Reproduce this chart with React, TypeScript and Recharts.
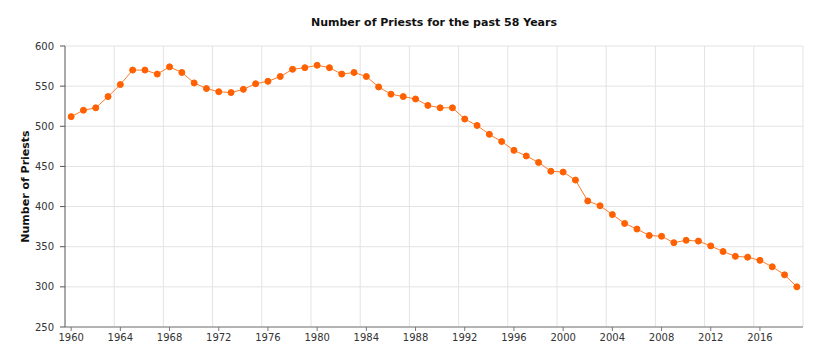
import React from 'react';
import { LineChart, Line, XAxis, YAxis, CartesianGrid, Label } from 'recharts';

const years: number[] = [
  1960, 1961, 1962, 1963, 1964, 1965, 1966, 1967, 1968, 1969,
  1970, 1971, 1972, 1973, 1974, 1975, 1976, 1977, 1978, 1979,
  1980, 1981, 1982, 1983, 1984, 1985, 1986, 1987, 1988, 1989,
  1990, 1991, 1992, 1993, 1994, 1995, 1996, 1997, 1998, 1999,
  2000, 2001, 2002, 2003, 2004, 2005, 2006, 2007, 2008, 2009,
  2010, 2011, 2012, 2013, 2014, 2015, 2016, 2017, 2018, 2019,
];

const priests: number[] = [
  512, 520, 523, 537, 552, 570, 570, 565, 574, 567,
  554, 547, 543, 542, 546, 553, 556, 562, 571, 573,
  576, 573, 565, 567, 562, 549, 540, 537, 534, 526,
  523, 523, 509, 501, 490, 481, 470, 463, 455, 444,
  443, 433, 407, 401, 390, 379, 372, 364, 363, 355,
  358, 357, 351, 344, 338, 337, 333, 325, 315, 300,
];

const xTicks: number[] = [1960, 1964, 1968, 1972, 1976, 1980, 1984, 1988, 1992, 1996, 2000, 2004, 2008, 2012, 2016];
const yTicks: number[] = [250, 300, 350, 400, 450, 500, 550, 600];

const title = 'Number of Priests for the past 58 Years';
const yLabel = 'Number of Priests';

const data = years.map((y, i) => ({ year: y, value: priests[i] }));

const FONT = '"DejaVu Sans", Verdana, sans-serif';

export default function App() {
  return (
    <div style={{ position: 'absolute', left: 0, top: 0, width: 825, height: 362, background: '#fff', fontFamily: FONT }}>
      <div
        style={{
          position: 'absolute',
          left: 65,
          width: 738,
          top: 15,
          textAlign: 'center',
          fontSize: 11,
          fontWeight: 'bold',
          color: '#111',
          lineHeight: '16px',
        }}
      >
        {title}
      </div>
      <LineChart width={825} height={362} data={data} margin={{ top: 46, right: 22, bottom: 0, left: 0 }}>
        <CartesianGrid
          stroke="#e3e3e3"
          strokeWidth={1}
          verticalCoordinatesGenerator={({ offset }: any) => {
            const out: number[] = [];
            for (let k = 1; k <= 15; k++) out.push(offset.left + (offset.width * k) / 15);
            return out;
          }}
        />
        <XAxis
          dataKey="year"
          type="number"
          domain={[1959.5, 2019.5]}
          ticks={xTicks}
          height={35}
          tickSize={4}
          tickMargin={3}
          stroke="#777"
          tick={{ fill: '#333', fontSize: 10, fontFamily: FONT }}
          interval={0}
        />
        <YAxis
          type="number"
          domain={[250, 600]}
          ticks={yTicks}
          width={65}
          tickSize={5}
          tickMargin={6}
          stroke="#555"
          tick={{ fill: '#333', fontSize: 10, fontFamily: FONT }}
          interval={0}
        >
          <Label
            value={yLabel}
            angle={-90}
            position="insideLeft"
            offset={25}
            style={{ textAnchor: 'middle', fontSize: 11, fontWeight: 'bold', fill: '#111', fontFamily: FONT }}
          />
        </YAxis>
        <Line
          type="linear"
          dataKey="value"
          stroke="#FF7A26"
          strokeWidth={1}
          dot={{ r: 3, fill: '#FF6000', stroke: '#FF6000', strokeWidth: 1 }}
          isAnimationActive={false}
        />
      </LineChart>
    </div>
  );
}
